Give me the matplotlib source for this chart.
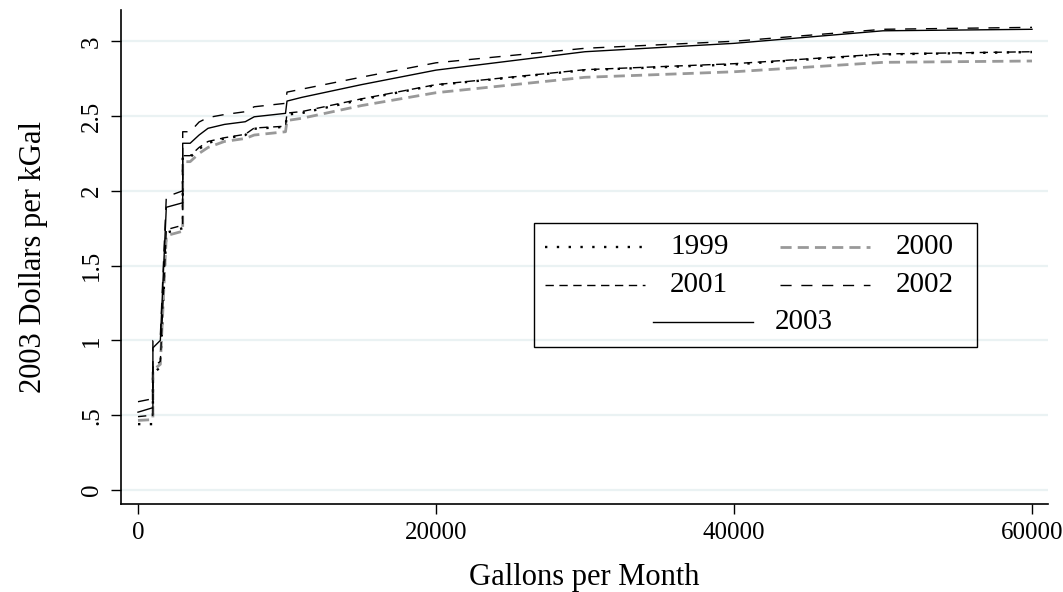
import matplotlib
matplotlib.use("Agg")
import matplotlib.pyplot as plt
from matplotlib.lines import Line2D
from matplotlib.patches import Rectangle

# Average water price by monthly consumption, one curve per year
gallons = [0, 1000, 1000, 1500, 1900, 3000, 3000, 3500, 4100, 4700, 5800, 7200,
           7800, 9900, 10000, 11000, 15000, 20000, 30000, 40000, 50000, 60000]

price_1999 = [0.44, 0.44, 0.78, 0.82, 1.72, 1.75, 2.225, 2.225, 2.28, 2.32, 2.35, 2.373,
              2.415, 2.428, 2.51, 2.52, 2.61, 2.707, 2.807, 2.845, 2.912, 2.928]
price_2000 = [0.465, 0.47, 0.80, 0.84, 1.70, 1.73, 2.195, 2.195, 2.25, 2.29, 2.33, 2.35,
              2.373, 2.395, 2.47, 2.485, 2.57, 2.656, 2.759, 2.796, 2.859, 2.868]
price_2001 = [0.49, 0.50, 0.82, 0.86, 1.74, 1.77, 2.235, 2.235, 2.29, 2.33, 2.355, 2.378,
              2.42, 2.432, 2.52, 2.53, 2.615, 2.71, 2.81, 2.85, 2.915, 2.93]
price_2002 = [0.59, 0.61, 1.00, 1.03, 1.96, 2.00, 2.395, 2.395, 2.46, 2.49, 2.51, 2.529,
              2.562, 2.585, 2.66, 2.68, 2.76, 2.856, 2.953, 3.00, 3.08, 3.093]
price_2003 = [0.52, 0.55, 0.95, 1.00, 1.89, 1.92, 2.318, 2.318, 2.373, 2.418, 2.444, 2.462,
              2.495, 2.518, 2.60, 2.625, 2.71, 2.807, 2.93, 2.986, 3.07, 3.08]

years = ["1999", "2000", "2001", "2002", "2003"]
series = [price_1999, price_2000, price_2001, price_2002, price_2003]

x_ticks = [0, 20000, 40000, 60000]
x_tick_labels = ["0", "20000", "40000", "60000"]
y_ticks = [0, 0.5, 1, 1.5, 2, 2.5, 3]
y_tick_labels = ["0", ".5", "1", "1.5", "2", "2.5", "3"]

styles = {
    "1999": dict(color="black", lw=1.7, ls=(0, (1.0, 4.0))),
    "2000": dict(color="#999999", lw=2.0, ls=(0, (4.0, 2.2))),
    "2001": dict(color="black", lw=1.0, ls=(0, (6.0, 4.0))),
    "2002": dict(color="black", lw=1.0, ls=(0, (8.0, 7.0))),
    "2003": dict(color="black", lw=1.0, ls="-"),
}

plt.rcParams["font.family"] = ["Liberation Serif", "DejaVu Serif"]

W, H = 1063, 592
fig = plt.figure(figsize=(W / 100, H / 100), dpi=100)
ax = fig.add_axes([121 / W, 1 - 504 / H, (1048 - 121) / W, (504 - 10) / H])

for y in y_ticks:
    ax.axhline(y, color="#eaf2f3", lw=1.6, zorder=0)

for year, vals in zip(years, series):
    ax.plot(gallons, vals, **styles[year], zorder=2)

ax.set_xlim(-1141, 61074)
ax.set_ylim(-0.094, 3.209)

for side in ("top", "right"):
    ax.spines[side].set_visible(False)
for side in ("left", "bottom"):
    ax.spines[side].set_linewidth(1.2)

ax.set_xticks(x_ticks)
ax.set_xticklabels(x_tick_labels, fontsize=18)
ax.set_yticks(y_ticks)
ax.set_yticklabels(y_tick_labels, fontsize=18, rotation=90, va="center")
ax.tick_params(axis="both", direction="out", length=7, width=1.0, pad=6)

ax.set_xlabel("Gallons per Month", fontsize=22, labelpad=14)
ax.set_ylabel("2003 Dollars per kGal", fontsize=22, labelpad=24)

# Legend box: two columns, last entry centred on its own row
def fx(px):
    return px / W

def fy(py):
    return 1 - py / H

fig.patches.append(Rectangle((fx(534), fy(347)), fx(977) - fx(534), fy(223) - fy(347),
                             transform=fig.transFigure, fill=False, ec="black", lw=1.0))
entries = [("1999", 545, 645, 670, 247), ("2000", 780, 870, 896, 247),
           ("2001", 545, 645, 670, 285), ("2002", 780, 870, 896, 285),
           ("2003", 653, 753, 775, 322)]
for year, x0, x1, xt, yy in entries:
    fig.lines.append(Line2D([fx(x0), fx(x1)], [fy(yy), fy(yy)], transform=fig.transFigure,
                            **styles[year]))
    fig.text(fx(xt), fy(yy), year, fontsize=21, va="center", ha="left")

fig.savefig("out.png", dpi=100)
